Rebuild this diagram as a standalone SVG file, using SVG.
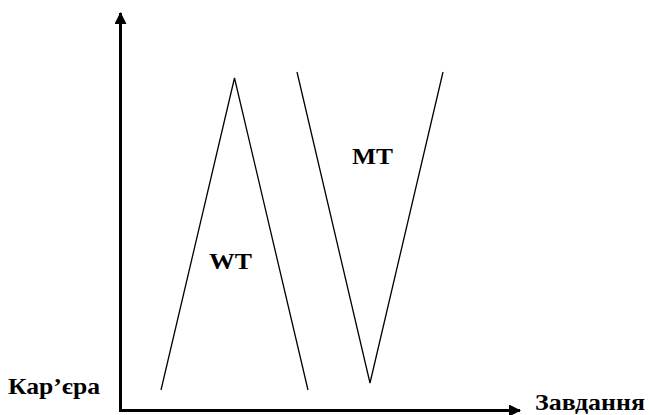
<svg xmlns="http://www.w3.org/2000/svg" width="649" height="415" viewBox="0 0 649 415">
<defs>
<style>
.ax{stroke:#000;stroke-width:3;fill:none}
.ln{stroke:#000;stroke-width:1.3;fill:none}
.t{font-family:"Liberation Serif","Times New Roman",serif;font-weight:bold;font-size:23px;fill:#000}
</style>
<marker id="ah" viewBox="0 0 12 12" refX="11" refY="6" markerWidth="12" markerHeight="12" markerUnits="userSpaceOnUse" orient="auto">
<path d="M0,0 L12,6 L0,12 Z" fill="#000"/>
</marker>
</defs>
<g id="axes">
<line class="ax" x1="120.5" y1="411" x2="120.5" y2="13" marker-end="url(#ah)"/>
<line class="ax" x1="119" y1="410.5" x2="520" y2="410.5" marker-end="url(#ah)"/>
</g>
<g id="connectors">
<polyline id="wt-line" class="ln" points="161,390 234.5,78 308,390"/>
<polyline id="mt-line" class="ln" points="297,72 370,383 443,72"/>
</g>
<g id="labels">
<text class="t" x="8" y="394" textLength="92" lengthAdjust="spacingAndGlyphs">Кар’єра</text>
<text class="t" x="535" y="410" textLength="110" lengthAdjust="spacingAndGlyphs">Завдання</text>
<text class="t" x="209" y="269" textLength="43" lengthAdjust="spacingAndGlyphs">WT</text>
<text class="t" x="352" y="164" textLength="41" lengthAdjust="spacingAndGlyphs">MT</text>
</g>
</svg>
